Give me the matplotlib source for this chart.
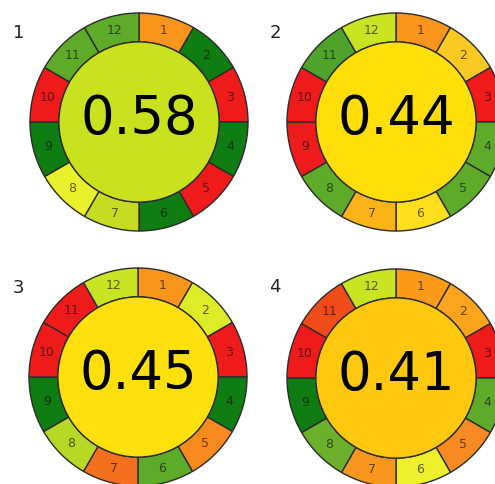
import numpy as np
import matplotlib
matplotlib.use('Agg')
import matplotlib.pyplot as plt
from matplotlib.patches import Circle

# segment weights (all equal) and labels
weights = [1] * 12
seg_labels = [str(i) for i in range(1, 13)]

RED = '#ef1b1b'
DGREEN = '#0f7d12'
MGREEN = '#5eab2a'
ORANGE = '#f8951a'

panel_names = ['1', '2', '3', '4']
scores = ['0.58', '0.44', '0.45', '0.41']
centre_colors = ['#c9e21d', '#ffde0a', '#ffe00c', '#fdc80e']
seg_colors = [
    [ORANGE, DGREEN, RED, DGREEN, RED, DGREEN, '#c6dc22', '#e9f02c', DGREEN, RED, MGREEN, MGREEN],
    [ORANGE, '#fcc822', RED, MGREEN, MGREEN, '#ffde1e', '#fbb318', MGREEN, RED, RED, '#4fa22a', '#c8e422'],
    [ORANGE, '#dcec26', RED, DGREEN, '#f88a1e', MGREEN, '#f4701e', '#b8d826', DGREEN, RED, RED, '#c8e422'],
    ['#fa9a16', '#fba41c', RED, MGREEN, '#f78a20', '#eef02c', '#f9961e', '#6cb02c', DGREEN, RED, '#f04c1a', '#c8e422'],
]

# pixel layout: centre x, centre y, radius, label position
W, H = 495, 484
centres = [(139, 122), (396, 122), (138, 377), (396, 378)]
R = 109
name_pos = [(19, 33), (275, 33), (18, 288), (275, 287)]


def main():
    fig = plt.figure(figsize=(W / 100, H / 100), dpi=100)

    for k in range(4):
        cx, cy = centres[k]
        ax = fig.add_axes([(cx - R) / W, (H - cy - R) / H, 2 * R / W, 2 * R / H])
        ax.pie(weights, colors=seg_colors[k], labels=seg_labels, startangle=90,
               counterclock=False, radius=1, labeldistance=0.865,
               wedgeprops=dict(width=0.265, edgecolor='#2b2b2b', linewidth=1.0),
               textprops=dict(fontsize=9, color='#111111', alpha=0.65,
                              ha='center', va='center'))
        ax.add_patch(Circle((0, 0), 0.735, facecolor=centre_colors[k],
                            edgecolor='#2b2b2b', linewidth=1.0))
        ax.text(0, 0.03, scores[k], fontsize=38, ha='center', va='center',
                color='black')
        ax.set_xlim(-1, 1)
        ax.set_ylim(-1, 1)
        ax.set_aspect('equal')
        ax.axis('off')

        fig.text(name_pos[k][0] / W, 1 - name_pos[k][1] / H, panel_names[k],
                 fontsize=13, color='#222222', ha='center', va='center')

    fig.savefig('out.png', dpi=100)


if __name__ == '__main__':
    main()
